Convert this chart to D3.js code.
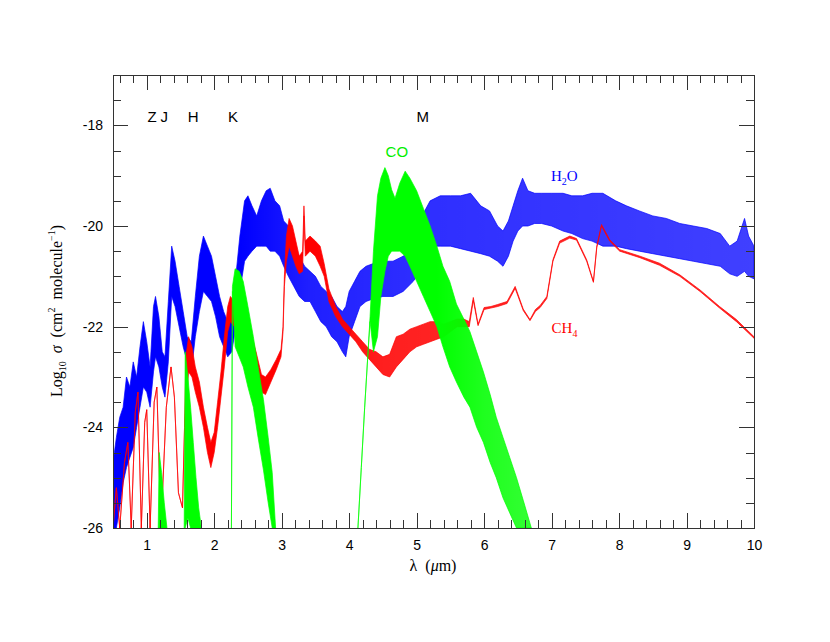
<!DOCTYPE html>
<meta charset="utf-8">
<title>Molecular cross sections</title>
<style>
  body { margin: 0; background: #fff; }
  .tick text { font-family: "Liberation Sans", Arial, sans-serif; font-size: 14px; fill: #000; }
  .tick line { stroke: #333; shape-rendering: crispEdges; }
  .axis path { display: none; }
  text { white-space: pre; }
  .sans { font-family: "Liberation Sans", Arial, sans-serif; font-size: 15px; }
  .serif { font-family: "Liberation Serif", "Times New Roman", serif; }
</style>
<body>
<script src="https://cdn.jsdelivr.net/npm/d3@7"></script>
<script>
// ---- data: wavelength (um), upper / lower envelope of log10 sigma ----
var h2oLam = [0.50,0.55,0.60,0.65,0.70,0.75,0.80,0.85,0.90,0.95,1.00,1.05,1.10,1.13,1.18,1.23,1.27,1.32,1.37,1.42,
              1.48,1.54,1.60,1.66,1.72,1.78,1.84,1.90,1.96,2.02,2.08,2.14,2.20,2.26,2.32,2.38,2.45,2.50,2.56,2.63,
              2.70,2.77,2.83,2.90,2.97,3.03,3.10,3.18,3.26,3.34,3.42,3.50,3.58,3.66,3.74,3.82,3.90,3.95,4.00,4.08,
              4.16,4.25,4.35,4.50,4.65,4.80,4.95,5.05,5.12,5.20,5.35,5.50,5.65,5.80,5.95,6.08,6.20,6.28,6.36,6.43,
              6.50,6.57,6.65,6.75,6.85,7.00,7.17,7.30,7.46,7.60,7.76,7.95,8.11,8.30,8.50,8.70,8.90,9.10,9.30,9.50,
              9.64,9.75,9.86,9.92,10.0];
var h2oHi = [-24.7,-24.2,-23.8,-23.6,-23.0,-23.2,-22.7,-23.0,-22.4,-21.9,-22.3,-22.8,-21.6,-21.4,-21.8,-22.5,-22.6,-21.5,-20.4,-20.7,
             -21.2,-21.7,-22.2,-22.3,-21.4,-20.6,-20.2,-20.4,-20.6,-21.0,-21.4,-21.7,-21.9,-21.9,-21.0,-20.2,-19.5,-19.4,-19.6,-19.8,
             -19.5,-19.3,-19.25,-19.5,-19.6,-19.9,-20.0,-20.4,-20.6,-20.8,-20.9,-21.0,-21.2,-21.3,-21.4,-21.6,-21.7,-21.6,-21.3,-21.1,
             -20.9,-20.8,-20.75,-20.7,-20.7,-20.6,-20.4,-20.0,-19.7,-19.5,-19.4,-19.4,-19.4,-19.35,-19.6,-19.7,-20.0,-20.1,-19.9,-19.6,
             -19.3,-19.05,-19.3,-19.35,-19.35,-19.35,-19.35,-19.4,-19.4,-19.35,-19.35,-19.5,-19.6,-19.7,-19.8,-19.85,-19.95,-20.0,-20.05,-20.15,
             -20.4,-20.3,-19.85,-20.2,-20.4];
var h2oLo = [-26,-26,-25.6,-25.1,-24.8,-24.6,-24.4,-24.0,-23.6,-23.2,-23.3,-23.6,-22.9,-22.6,-22.8,-23.2,-23.4,-22.7,-21.4,-21.6,
             -22.0,-22.4,-22.7,-22.9,-22.2,-21.7,-21.3,-21.4,-21.5,-21.8,-22.2,-22.4,-22.6,-22.5,-22.0,-21.3,-20.7,-20.6,-20.5,-20.4,
             -20.4,-20.4,-20.5,-20.5,-20.6,-20.8,-21.0,-21.2,-21.4,-21.5,-21.5,-21.7,-21.9,-22.0,-22.2,-22.3,-22.5,-22.6,-22.2,-21.9,
             -21.6,-21.5,-21.45,-21.4,-21.4,-21.3,-21.1,-20.9,-20.6,-20.4,-20.4,-20.4,-20.45,-20.5,-20.55,-20.6,-20.7,-20.8,-20.6,-20.3,
             -20.1,-20.0,-20.0,-19.95,-19.95,-20.0,-20.1,-20.15,-20.25,-20.3,-20.4,-20.4,-20.45,-20.5,-20.55,-20.6,-20.65,-20.7,-20.75,-20.8,
             -20.95,-21.0,-20.9,-21.0,-21.05];

var ch4Lam = [0.50,0.55,0.60,0.67,0.72,0.77,0.83,0.87,0.92,0.97,1.00,1.05,1.11,1.15,1.21,1.29,1.36,1.41,1.47,1.53,
              1.56,1.58,1.62,1.67,1.72,1.78,1.84,1.90,1.95,2.00,2.05,2.10,2.15,2.20,2.24,2.30,2.38,2.46,2.54,2.62,
              2.70,2.76,2.84,2.92,2.99,3.02,3.04,3.07,3.11,3.16,3.21,3.26,3.31,3.33,3.35,3.42,3.50,3.57,3.63,3.70,
              3.80,3.90,4.00,4.10,4.20,4.30,4.40,4.50,4.60,4.70,4.80,4.90,5.00,5.10,5.20,5.30,5.40,5.50,5.60,5.70,
              5.78,5.84,5.91,6.00,6.10,6.20,6.34,6.46,6.58,6.68,6.76,6.83,6.93,7.02,7.12,7.27,7.37,7.52,7.62,7.67,
              7.74,7.86,8.01,8.31,8.60,8.90,9.20,9.49,9.74,10.0];
var ch4Hi = [-26,-25.2,-26,-24.7,-24.3,-26,-23.7,-23.3,-26,-23.9,-23.65,-26,-23.5,-23.2,-26,-23.6,-22.8,-23.4,-25.3,-25.6,
             -24.0,-22.6,-22.2,-22.4,-22.8,-23.1,-23.6,-24.0,-24.3,-24.1,-23.5,-22.9,-22.2,-21.6,-21.4,-21.5,-21.7,-21.9,-22.1,-22.5,
             -22.95,-23.0,-22.85,-22.65,-22.45,-22.0,-21.0,-20.2,-19.85,-20.0,-20.3,-20.6,-20.5,-19.6,-20.3,-20.2,-20.3,-20.4,-20.75,-21.25,
             -21.6,-21.85,-22.0,-22.15,-22.3,-22.45,-22.5,-22.6,-22.55,-22.2,-22.15,-22.05,-22.0,-21.95,-21.9,-21.9,-21.95,-21.9,-21.85,-21.85,
             -21.9,-21.42,-21.95,-21.62,-21.6,-21.56,-21.5,-21.2,-21.65,-21.86,-21.66,-21.58,-21.4,-20.67,-20.3,-20.2,-20.25,-20.67,-21.1,-20.4,
             -19.97,-20.27,-20.47,-20.6,-20.74,-20.97,-21.27,-21.6,-21.86,-22.2];
var ch4Lo = [-26,-25.2,-26,-24.7,-24.3,-26,-23.7,-23.3,-26,-23.9,-23.65,-26,-23.5,-23.2,-26,-23.6,-22.8,-23.4,-25.3,-25.6,
             -24.0,-23.6,-22.9,-23.0,-23.3,-23.6,-24.0,-24.5,-24.8,-24.5,-24.0,-23.4,-22.8,-22.1,-21.9,-22.0,-22.3,-22.4,-22.6,-22.9,
             -23.3,-23.35,-23.1,-22.85,-22.6,-22.1,-21.2,-20.7,-20.4,-20.6,-20.8,-20.95,-20.9,-19.8,-20.6,-20.5,-20.6,-20.8,-21.0,-21.5,
             -21.8,-22.0,-22.15,-22.3,-22.5,-22.65,-22.8,-22.95,-23.0,-22.8,-22.65,-22.5,-22.4,-22.35,-22.3,-22.25,-22.2,-22.1,-22.0,-22.0,
             -22.0,-21.48,-21.98,-21.66,-21.63,-21.6,-21.54,-21.24,-21.68,-21.88,-21.7,-21.62,-21.44,-20.7,-20.34,-20.24,-20.28,-20.7,-21.12,-20.43,
             -20.0,-20.3,-20.5,-20.63,-20.78,-21.0,-21.3,-21.63,-21.9,-22.23];

// CO: four separate pieces
var coLam1 = [1.17,1.185,1.22,1.26,1.30];
var coHi1  = [-26,-24.5,-24.9,-25.5,-26];
var coLo1  = [-26,-26,-26,-26,-26];
var coLam2 = [1.555,1.57,1.61,1.65,1.69,1.73,1.77,1.81];
var coHi2  = [-26,-22.5,-23.0,-23.6,-24.3,-25.0,-25.6,-26];
var coLo2  = [-26,-26,-25.8,-26,-26,-26,-26,-26];
var coLam3 = [2.255,2.27,2.31,2.37,2.43,2.50,2.58,2.65,2.73,2.80,2.86,2.91];
var coHi3  = [-26,-21.2,-20.85,-20.9,-21.1,-21.6,-22.2,-22.8,-23.45,-24.2,-24.9,-26];
var coLo3  = [-26,-21.3,-22.4,-22.6,-22.8,-23.2,-23.6,-24.2,-24.85,-25.5,-26,-26];
var coLam4 = [4.13,4.18,4.23,4.28,4.31,4.36,4.42,4.47,4.53,4.58,4.63,4.68,4.75,4.83,4.90,5.00,5.10,5.20,5.30,5.39,
              5.49,5.59,5.70,5.79,5.89,5.99,6.09,6.18,6.28,6.38,6.48,6.58,6.70];
var coHi4  = [-26,-24.8,-23.6,-22.5,-21.8,-20.5,-19.4,-19.05,-18.84,-19.0,-19.28,-19.45,-19.15,-18.91,-19.05,-19.3,-19.65,-20.0,-20.4,-20.8,
              -21.1,-21.55,-21.85,-22.1,-22.5,-22.9,-23.35,-23.8,-24.2,-24.6,-25.0,-25.45,-26];
var coLo4  = [-26,-24.8,-23.6,-22.5,-21.9,-22.5,-22.2,-21.4,-20.9,-20.6,-20.5,-20.5,-20.5,-20.6,-20.8,-21.1,-21.4,-21.7,-22.0,-22.4,
              -22.8,-23.1,-23.4,-23.6,-24.0,-24.3,-24.7,-25.0,-25.4,-25.7,-26,-26,-26];

var xMajor = [1,2,3,4,5,6,7,8,9,10];
var yMajor = [-26,-24,-22,-20,-18];
var bandNames = ["Z","J","H","K","M"];
var bandPos = [1.08,1.26,1.69,2.28,5.09];

// ---- layout ----
var margin = {top: 75, right: 76, bottom: 114, left: 113},
    width = 830 - margin.left - margin.right,
    height = 642 - margin.top - margin.bottom;

var svg = d3.select("body").append("svg")
    .attr("width", 830)
    .attr("height", 642);
var g = svg.append("g")
    .attr("transform", "translate(" + margin.left + "," + margin.top + ")");

var x = d3.scaleLinear().domain([0.5, 10]).range([0, width]);
var y = d3.scaleLinear().domain([-26, -17]).range([height, 0]);

var defs = g.append("defs");
defs.append("clipPath").attr("id", "clip")
  .append("rect").attr("width", width).attr("height", height);

// dense line spectra look lighter where the lines are spread out
function fade(id, color, stops) {
  var grad = defs.append("linearGradient").attr("id", id)
      .attr("gradientUnits", "userSpaceOnUse")
      .attr("x1", 0).attr("x2", width).attr("y1", 0).attr("y2", 0);
  stops.forEach(function(s) {
    grad.append("stop")
      .attr("offset", x(s[0]) / width)
      .attr("stop-color", color)
      .attr("stop-opacity", s[1]);
  });
  return "url(#" + id + ")";
}

var plot = g.append("g").attr("clip-path", "url(#clip)");

function band(lam, hi, lo, color, fill) {
  var pts = lam.map(function(l, i) { return {l: l, h: hi[i], o: lo[i]}; });
  var area = d3.area()
      .x(function(d) { return x(d.l); })
      .y0(function(d) { return y(d.o); })
      .y1(function(d) { return y(d.h); });
  plot.append("path").datum(pts)
      .attr("d", area)
      .attr("fill", fill || color)
      .attr("stroke", color)
      .attr("stroke-width", 0.7)
      .attr("stroke-linejoin", "round");
}

band(h2oLam, h2oHi, h2oLo, "#0000ff",
     fade("h2oFade", "#0000ff", [[0.5, 1], [2.4, 1], [3.4, 0.88], [5.0, 0.82], [10, 0.75]]));
band(ch4Lam, ch4Hi, ch4Lo, "#ff0000",
     fade("ch4Fade", "#ff0000", [[0.5, 1], [3.5, 1], [4.5, 0.88], [6, 0.85], [10, 0.85]]));
band(coLam1, coHi1, coLo1, "#00ff00");
band(coLam2, coHi2, coLo2, "#00ff00");
band(coLam3, coHi3, coLo3, "#00ff00");
band(coLam4, coHi4, coLo4, "#00ff00",
     fade("coFade", "#00ff00", [[0.5, 1], [5.3, 1], [6.0, 0.88], [6.7, 0.8]]));

// ---- axes, ticks on all four sides pointing inward ----
var xMinor = d3.range(3, 50).filter(function(i) { return i % 5 !== 0; }).map(function(i) { return i / 5; });
var yMinor = d3.range(-51, -34).filter(function(i) { return i % 4 !== 0; }).map(function(i) { return i / 2; });

g.append("g").attr("class", "axis").attr("transform", "translate(0," + height + ")")
  .call(d3.axisBottom(x).tickValues(xMajor).tickSize(-15).tickPadding(12).tickFormat(d3.format("d")));
g.append("g").attr("class", "axis").attr("transform", "translate(0," + height + ")")
  .call(d3.axisBottom(x).tickValues(xMinor).tickSize(-8).tickFormat(""));
g.append("g").attr("class", "axis")
  .call(d3.axisTop(x).tickValues(xMajor).tickSize(-15).tickFormat(""));
g.append("g").attr("class", "axis")
  .call(d3.axisTop(x).tickValues(xMinor).tickSize(-8).tickFormat(""));

g.append("g").attr("class", "axis")
  .call(d3.axisLeft(y).tickValues(yMajor).tickSize(-15).tickPadding(10).tickFormat(function(d) { return String(d); }));
g.append("g").attr("class", "axis")
  .call(d3.axisLeft(y).tickValues(yMinor).tickSize(-8).tickFormat(""));
g.append("g").attr("class", "axis").attr("transform", "translate(" + width + ",0)")
  .call(d3.axisRight(y).tickValues(yMajor).tickSize(-15).tickFormat(""));
g.append("g").attr("class", "axis").attr("transform", "translate(" + width + ",0)")
  .call(d3.axisRight(y).tickValues(yMinor).tickSize(-8).tickFormat(""));

g.append("rect")
  .attr("x", 0.5).attr("y", 0.5)
  .attr("width", width).attr("height", height)
  .attr("fill", "none").attr("stroke", "#333")
  .attr("shape-rendering", "crispEdges");

// ---- band letters ----
g.selectAll(".bandname")
  .data(bandNames)
  .enter().append("text")
  .attr("class", "sans")
  .attr("x", function(d, i) { return x(bandPos[i]); })
  .attr("y", 47)
  .attr("text-anchor", "middle")
  .text(function(d) { return d; });

// ---- molecule labels ----
g.append("text").attr("class", "sans")
  .attr("x", x(4.54)).attr("y", 82)
  .attr("fill", "#00ee00")
  .text("CO");

var h2o = g.append("text").attr("class", "serif")
  .attr("x", x(6.99)).attr("y", 106)
  .attr("fill", "#0000ff")
  .style("font-size", "15px");
h2o.append("tspan").text("H");
h2o.append("tspan").attr("dy", 4).style("font-size", "10px").text("2");
h2o.append("tspan").attr("dy", -4).text("O");

var ch4 = g.append("text").attr("class", "serif")
  .attr("x", x(7.0)).attr("y", 258)
  .attr("fill", "#ff0000")
  .style("font-size", "15px");
ch4.append("tspan").text("CH");
ch4.append("tspan").attr("dy", 4).style("font-size", "10px").text("4");

// ---- axis titles ----
var xt = svg.append("text").attr("class", "serif")
  .attr("x", 433).attr("y", 571)
  .attr("text-anchor", "middle")
  .style("font-size", "16px");
xt.append("tspan").text("λ  (");
xt.append("tspan").style("font-style", "italic").text("μ");
xt.append("tspan").text("m)");

var yt = svg.append("text").attr("class", "serif")
  .attr("transform", "translate(62,311) rotate(-90)")
  .attr("text-anchor", "middle")
  .style("font-size", "16px");
yt.append("tspan").text("Log");
yt.append("tspan").attr("dy", 4).style("font-size", "10px").text("10");
yt.append("tspan").attr("dy", -4).style("font-style", "italic").text("  σ");
yt.append("tspan").text("  (cm");
yt.append("tspan").attr("dy", -7).style("font-size", "10px").text("2");
yt.append("tspan").attr("dy", 7).text("  molecule");
yt.append("tspan").attr("dy", -7).style("font-size", "10px").text("−1");
yt.append("tspan").attr("dy", 7).text(")");
</script>
</body>
